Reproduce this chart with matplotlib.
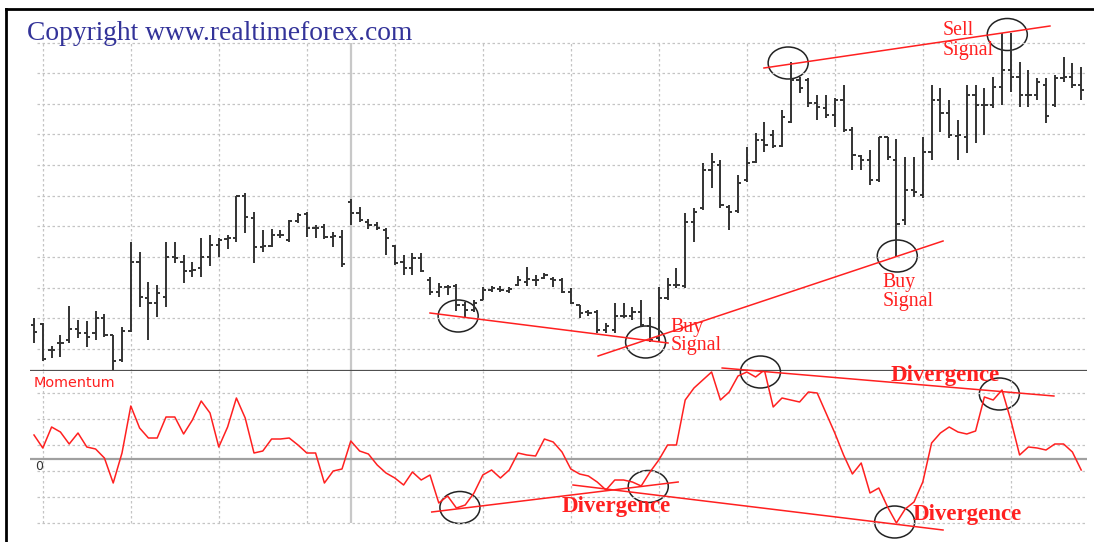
import matplotlib
matplotlib.use('Agg')
import matplotlib.pyplot as plt
from matplotlib.patches import Ellipse

# price in pips, one bar per session
opens = [75, 76, 50, 57, 60, 71, 67, 67, 82, 65, 40, 69, 138, 102, 97, 103, 143, 138, 129, 132,
         143, 155, 161, 162, 204, 182, 153, 154, 165, 160, 179, 186, 172, 173, 163, 163, 198, 187, 178, 175,
         170, 154, 138, 132, 142, 120, 108, 113, 114, 95, 90, 100, 110, 111, 109, 115, 118, 120, 122, 121,
         120, 108, 95, 88, 88, 70, 70, 84, 84, 88, 74, 62, 102, 115, 114, 178, 192, 230, 235, 193,
         189, 220, 238, 260, 265, 254, 278, 320, 320, 297, 292, 285, 300, 270, 244, 240, 220, 263, 240, 180,
         210, 205, 248, 300, 287, 264, 263, 305, 295, 295, 313, 330, 323, 305, 305, 315, 295, 322, 323, 315]
highs = [82, 77, 54, 65, 94, 80, 79, 89, 86, 65, 73, 158, 148, 118, 115, 158, 158, 145, 138, 162,
         165, 162, 165, 204, 207, 188, 170, 171, 170, 180, 187, 188, 175, 176, 168, 170, 201, 193, 181, 178,
         172, 155, 145, 147, 147, 123, 117, 115, 116, 98, 100, 113, 114, 114, 113, 124, 133, 125, 127, 123,
         122, 112, 95, 90, 90, 77, 97, 97, 93, 100, 83, 113, 122, 132, 187, 192, 237, 247, 240, 195,
         225, 253, 267, 278, 270, 290, 338, 323, 322, 305, 305, 302, 315, 273, 245, 250, 263, 263, 261, 243,
         243, 263, 315, 312, 300, 280, 315, 315, 312, 323, 367, 367, 338, 330, 322, 322, 325, 343, 337, 333]
lows = [57, 39, 42, 43, 57, 62, 53, 60, 63, 30, 38, 68, 93, 60, 83, 93, 137, 117, 123, 123,
        134, 143, 151, 158, 167, 137, 148, 153, 162, 158, 177, 163, 162, 161, 153, 133, 175, 178, 171, 170,
        145, 135, 125, 125, 128, 105, 103, 105, 89, 82, 88, 100, 108, 108, 107, 114, 114, 114, 121, 113,
        107, 96, 82, 84, 67, 67, 67, 82, 80, 73, 58, 58, 100, 112, 112, 158, 190, 212, 192, 170,
        187, 218, 237, 248, 252, 253, 277, 307, 293, 280, 282, 273, 268, 230, 230, 215, 218, 240, 143, 175,
        203, 202, 240, 268, 262, 240, 247, 257, 265, 292, 295, 308, 293, 293, 300, 277, 293, 318, 312, 300]
closes = [68, 41, 50, 57, 71, 67, 63, 82, 65, 39, 69, 138, 103, 97, 107, 143, 142, 129, 130, 143,
          155, 160, 162, 204, 183, 153, 154, 165, 165, 179, 185, 172, 172, 163, 164, 136, 187, 180, 175, 172,
          162, 137, 132, 142, 129, 108, 113, 113, 95, 90, 97, 110, 112, 110, 111, 120, 121, 120, 125, 120,
          108, 97, 87, 87, 70, 74, 84, 84, 88, 75, 60, 102, 115, 115, 178, 188, 230, 238, 195, 188,
          217, 237, 260, 255, 254, 283, 320, 312, 297, 293, 285, 300, 270, 245, 240, 220, 263, 243, 176, 210,
          208, 248, 300, 287, 265, 265, 305, 295, 295, 313, 330, 323, 305, 305, 318, 284, 322, 323, 315, 310]

momentum = [2.4, 1.1, 3.2, 2.7, 1.5, 2.6, 1.2, 1.0, 0.1, -2.4, 0.6, 5.3, 3.1, 2.1, 2.1, 4.2, 4.2, 2.5, 3.9, 5.8,
            4.6, 1.2, 3.2, 6.1, 4.1, 0.6, 0.8, 2.0, 2.0, 2.1, 1.4, 0.6, 0.6, -2.4, -1.2, -1.0, 1.8, 0.8, 0.5, -0.6,
            -1.4, -1.9, -2.6, -1.3, -2.1, -1.6, -4.4, -3.7, -4.9, -4.6, -3.4, -1.6, -1.1, -1.9, -1.1, 0.6, 0.4, 0.3, 2.0, 1.7,
            0.7, -1.0, -1.5, -1.7, -2.3, -3.1, -2.1, -2.1, -2.3, -2.7, -1.3, -0.1, 1.4, 1.4, 5.9, 7.1, 7.9, 8.7, 5.9, 6.7,
            8.3, 8.7, 8.2, 8.9, 5.2, 6.1, 5.9, 5.7, 6.7, 6.6, 4.6, 2.6, 0.4, -1.5, -0.4, -3.4, -2.9, -4.8, -6.4, -5.0,
            -4.3, -2.3, 1.6, 2.6, 3.2, 2.7, 2.5, 2.8, 6.2, 5.9, 6.9, 3.9, 0.4, 1.2, 1.1, 0.9, 1.5, 1.5, 0.7, -1.1]

# trend lines (bar index, value) and highlighted turning points
price_lines = [((45.0, 87), (72.05, 57)), ((64.1, 44), (103.3, 159)), ((82.95, 332), (115.45, 374))]
price_circles = [(48.2, 84), (69.5, 58), (85.7, 337), (98.1, 144), (110.6, 365.5)]
mom_lines = [((45.2, -5.3), (73.2, -2.3)), ((61.25, -2.6), (103.3, -7.1)), ((78.2, 9.1), (115.9, 6.3))]
mom_circles = [(48.4, -4.85), (69.8, -2.75), (82.55, 8.7), (109.7, 6.5), (97.8, -6.3)]
signal_labels = [(72.3, 68, 50, 'Buy'), (96.4, 113, 94, 'Buy'), (103.3, 365, 345, 'Sell')]
divergence_labels = [(60.0, -5.3), (97.3, 7.8), (99.8, -6.1)]

if __name__ == '__main__':
    W, H = 1094, 542
    fig = plt.figure(figsize=(W / 100, H / 100), dpi=100)
    fig.patch.set_facecolor('white')

    x0, x1 = 30, 1087
    ax = fig.add_axes([x0 / W, (H - 371) / H, (x1 - x0) / W, (371 - 9) / H])
    axm = fig.add_axes([x0 / W, 0, (x1 - x0) / W, (H - 371) / H])
    xlim = (-0.455, 119.66)
    for a in (ax, axm):
        a.set_xlim(*xlim)
        a.axis('off')
        a.patch.set_alpha(0)
    ax.set_ylim(29, 391)
    axm.set_ylim(-8.3, 8.8)

    grid_col = '#c4c4c4'
    price_grid = [51 + 30.65 * k for k in range(11)]
    mom_grid = [-6.4 + 2.6 * k for k in range(6)]
    vgrid = list(range(1, 120, 10))
    ax.hlines(price_grid, 0.35, xlim[1], colors=grid_col, linestyles=(0, (2, 2)), lw=0.9)
    ax.vlines(vgrid, 29, price_grid[-1], colors=grid_col, linestyles=(0, (2, 2)), lw=0.9)
    axm.hlines(mom_grid, 0.35, xlim[1], colors=grid_col, linestyles=(0, (2, 2)), lw=0.9)
    axm.vlines(vgrid, mom_grid[0], 8.8, colors=grid_col, linestyles=(0, (2, 2)), lw=0.9)
    ax.vlines(36, 29, price_grid[-1], colors='#c8c8c8', lw=1.6)
    axm.vlines(36, mom_grid[0], 8.8, colors='#c8c8c8', lw=1.6)
    axm.axhline(0, color='#a0a0a0', lw=1.6)
    ax.axhline(29, color='#505050', lw=1.6)

    n = len(opens)
    idx = list(range(n))
    bar_col = '#333333'
    ax.vlines(idx, lows, highs, colors=bar_col, lw=1.4)
    ax.hlines(opens, [i - 0.36 for i in idx], idx, colors=bar_col, lw=1.4)
    ax.hlines(closes, idx, [i + 0.36 for i in idx], colors=bar_col, lw=1.4)

    axm.plot(idx, momentum, color='#ff2020', lw=1.1)

    for (xa, ya), (xb, yb) in price_lines:
        ax.plot([xa, xb], [ya, yb], color='#ff2020', lw=1.1)
    for (xa, ya), (xb, yb) in mom_lines:
        axm.plot([xa, xb], [ya, yb], color='#ff2020', lw=1.1, clip_on=False)
    for cx, cy in price_circles:
        ax.add_patch(Ellipse((cx, cy), 4.55, 32, fill=False, ec='#222222', lw=1.1))
    for cx, cy in mom_circles:
        axm.add_patch(Ellipse((cx, cy), 4.55, 3.2, fill=False, ec='#222222', lw=1.1, clip_on=False))

    serif = 'Liberation Serif'
    for xs, y_top, y_bot, word in signal_labels:
        ax.text(xs, y_top, word, color='#ff2020', fontsize=14.3, family=serif, va='baseline')
        ax.text(xs, y_bot, 'Signal', color='#ff2020', fontsize=14.3, family=serif, va='baseline')
    for xs, ys in divergence_labels:
        axm.text(xs, ys, 'Divergence', color='#ff2020', fontsize=16.5, family=serif,
                 fontweight='bold', va='baseline', clip_on=False)

    axm.text(0, 7.6, 'Momentum', color='#ff2020', fontsize=10.4, family='DejaVu Sans', va='center')
    axm.text(0.1, -0.7, '0', color='#333333', fontsize=9, family='DejaVu Sans', va='center')

    fig.text(27 / W, 1 - 40 / H, 'Copyright www.realtimeforex.com', color='#333399',
             fontsize=19.8, family=serif, va='baseline')

    # outer frame (cut off at right and bottom in the original)
    fig.add_artist(plt.Line2D([6 / W, 1], [1 - 9 / H, 1 - 9 / H], color='black', lw=2))
    fig.add_artist(plt.Line2D([6 / W, 6 / W], [0, 1 - 9 / H], color='black', lw=2))

    fig.savefig('out.png', dpi=100)
